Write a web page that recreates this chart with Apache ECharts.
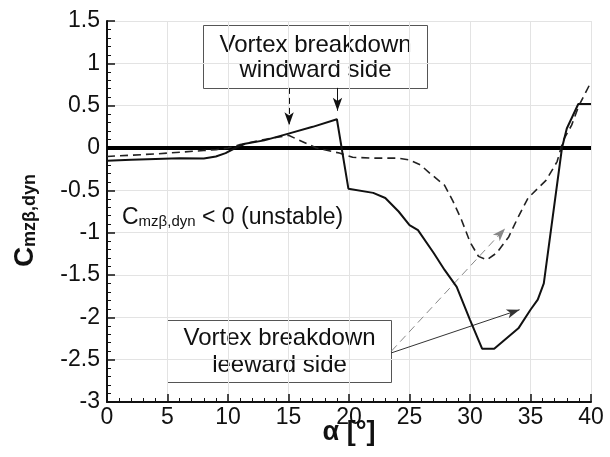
<!DOCTYPE html>
<html>
<head>
<meta charset="utf-8">
<script src="https://cdn.jsdelivr.net/npm/echarts@6/dist/echarts.min.js"></script>
<style>
html,body{margin:0;padding:0;background:#fff;}
#c{width:610px;height:457px;}
</style>
</head>
<body>
<div id="c"></div>
<script>
// ---- data ----
var alphaSolid = [0, 2, 4, 6, 8, 9, 9.8, 10.6, 11.4, 13, 15, 17, 19, 19.95, 22, 23, 24.1, 25, 25.7, 27, 27.9, 28.9, 30, 31, 32, 34, 35, 35.6, 36.1, 37.6, 38, 38.95, 40];
var cmSolid    = [-0.15, -0.14, -0.13, -0.12, -0.125, -0.1, -0.06, 0, 0.05, 0.09, 0.17, 0.25, 0.34, -0.48, -0.53, -0.59, -0.75, -0.91, -0.97, -1.24, -1.44, -1.64, -2.03, -2.37, -2.37, -2.13, -1.91, -1.79, -1.6, 0, 0.23, 0.52, 0.52];

var alphaDashed = [0, 4, 8, 9, 10, 11, 13, 15, 17.3, 19.2, 20.3, 22, 24, 25, 25.9, 26.7, 27.9, 28.6, 29.3, 30, 30.7, 31.4, 32.2, 33.2, 34, 34.8, 36.3, 37.2, 37.7, 38.4, 39, 40];
var cmDashed    = [-0.1, -0.07, -0.03, -0.02, 0, 0.04, 0.1, 0.15, 0, -0.06, -0.11, -0.12, -0.12, -0.14, -0.2, -0.3, -0.44, -0.63, -0.85, -1.11, -1.28, -1.32, -1.24, -1.05, -0.81, -0.59, -0.38, -0.16, 0.09, 0.27, 0.5, 0.78];

var zeroLineAlpha = [0, 40];
var zeroLineCm = [0, 0];

var xTicks = {min: 0, max: 40, step: 5};
var yTicks = {min: -3, max: 1.5, step: 0.5};

// annotation arrows: [startAlpha, startCm, endAlpha, endCm]
var arrowWindDashed = [15.05, 0.71, 15.05, 0.27];
var arrowWindSolid  = [19.05, 0.71, 19.05, 0.44];
var arrowLeeSolid   = [23.5, -2.42, 34.1, -1.91];
var arrowLeeDashed  = [23.5, -2.40, 32.9, -0.95];

var boxWindText = ['Vortex breakdown', 'windward side'];
var boxLeeText  = ['Vortex breakdown', 'leeward side'];

function pairs(xs, ys){ return xs.map(function(x,i){ return [x, ys[i]]; }); }
function arrowLine(a){ return [{coord:[a[0],a[1]]},{coord:[a[2],a[3]]}]; }

var chart = echarts.init(document.getElementById('c'), null, {renderer:'canvas'});
var FONT = 'Liberation Sans, Arial, sans-serif';

var option = {
  animation: false,
  backgroundColor: '#fff',
  grid: {left: 107, right: 19, top: 21, bottom: 55, containLabel: false, outerBoundsMode: 'none'},
  xAxis: {
    type: 'value', min: xTicks.min, max: xTicks.max, interval: xTicks.step,
    name: 'α [°]', nameLocation: 'middle', nameGap: 17, nameMoveOverlap: false,
    nameTextStyle: {fontFamily: FONT, fontSize: 27, fontWeight: 'bold', color: '#111'},
    axisLine: {show: true, onZero: false, lineStyle: {color: '#111', width: 2}},
    axisTick: {show: true, inside: true, length: 8, lineStyle: {color: '#111', width: 1.5}},
    minorTick: {show: true, splitNumber: 5, length: 4, lineStyle: {color: '#111', width: 1}},
    axisLabel: {fontFamily: FONT, fontSize: 23, color: '#111', margin: 4},
    splitLine: {show: true, lineStyle: {color: '#e3e3e3', width: 1}}
  },
  yAxis: {
    type: 'value', min: yTicks.min, max: yTicks.max, interval: yTicks.step,
    name: '{c|C}{s|mzβ,dyn}', nameLocation: 'middle', nameGap: 68, nameRotate: 90, nameMoveOverlap: false,
    nameTextStyle: {
      fontFamily: FONT, color: '#111', padding: [0, 18, 0, 0],
      rich: {
        c: {fontFamily: FONT, fontSize: 28, fontWeight: 'bold', color: '#111', lineHeight: 30, verticalAlign: 'bottom'},
        s: {fontFamily: FONT, fontSize: 18, fontWeight: 'bold', color: '#111', lineHeight: 18, verticalAlign: 'bottom', padding: [12, 0, 0, 0]}
      }
    },
    axisLine: {show: true, onZero: false, lineStyle: {color: '#111', width: 2}},
    axisTick: {show: true, inside: true, length: 8, lineStyle: {color: '#111', width: 1.5}},
    minorTick: {show: true, splitNumber: 5, length: 4, lineStyle: {color: '#111', width: 1}},
    axisLabel: {fontFamily: FONT, fontSize: 23, color: '#111', margin: 7},
    splitLine: {show: true, lineStyle: {color: '#e3e3e3', width: 1}}
  },
  series: [
    {
      name: 'zero', type: 'line', data: pairs(zeroLineAlpha, zeroLineCm),
      symbol: 'none', lineStyle: {color: '#000', width: 4}, silent: true, z: 3
    },
    {
      name: 'dashed', type: 'line', data: pairs(alphaDashed, cmDashed),
      symbol: 'none', lineStyle: {color: '#222', width: 1.6, type: [8, 5]}, silent: true, z: 4,
      markLine: {
        silent: true, symbol: ['none', 'arrow'], symbolSize: [7, 13], label: {show: false},
        data: [arrowLine(arrowWindDashed)],
        lineStyle: {color: '#111', width: 1, type: [6, 4]}
      }
    },
    {
      name: 'solid', type: 'line', data: pairs(alphaSolid, cmSolid),
      symbol: 'none', lineStyle: {color: '#111', width: 2}, silent: true, z: 5,
      markLine: {
        silent: true, symbol: ['none', 'arrow'], symbolSize: [7, 13], label: {show: false},
        data: [arrowLine(arrowWindSolid)],
        lineStyle: {color: '#111', width: 1, type: 'solid'}
      }
    },
    {
      name: 'leeSolidArrow', type: 'line', data: [],
      markLine: {
        silent: true, symbol: ['none', 'arrow'], symbolSize: [7, 13], label: {show: false},
        data: [arrowLine(arrowLeeSolid)],
        lineStyle: {color: '#333', width: 1, type: 'solid'}
      }
    },
    {
      name: 'leeDashedArrow', type: 'line', data: [],
      markLine: {
        silent: true, symbol: ['none', 'arrow'], symbolSize: [7, 13], label: {show: false},
        data: [arrowLine(arrowLeeDashed)],
        lineStyle: {color: '#888', width: 1, type: [8, 5]}
      }
    }
  ],
  graphic: [
    {
      type: 'group', left: 203, top: 25, z: 100,
      children: [
        {type: 'rect', shape: {x: 0, y: 0, width: 224, height: 63}, style: {fill: '#fff', stroke: '#555', lineWidth: 1}},
        {type: 'text', x: 112, y: 32, style: {text: boxWindText.join('\n'), fontFamily: FONT, fontSize: 24, lineHeight: 25, fill: '#111', align: 'center', verticalAlign: 'middle'}}
      ]
    },
    {
      type: 'group', left: 167, top: 320, z: 100,
      children: [
        {type: 'rect', shape: {x: 0, y: 0, width: 224, height: 62}, style: {fill: '#fff', stroke: '#555', lineWidth: 1}},
        {type: 'text', x: 112, y: 31, style: {text: boxLeeText.join('\n'), fontFamily: FONT, fontSize: 24, lineHeight: 27, fill: '#111', align: 'center', verticalAlign: 'middle'}}
      ]
    },
    {
      type: 'text', left: 122, top: 206, z: 100,
      style: {
        text: '{c|C}{s|mzβ,dyn}{c| < 0 (unstable)}',
        rich: {
          c: {fontFamily: FONT, fontSize: 23, fill: '#111', lineHeight: 26, verticalAlign: 'bottom'},
          s: {fontFamily: FONT, fontSize: 15, fill: '#111', lineHeight: 15, verticalAlign: 'bottom', padding: [8, 0, 0, 0]}
        }
      }
    }
  ]
};
chart.setOption(option);
</script>
</body>
</html>
